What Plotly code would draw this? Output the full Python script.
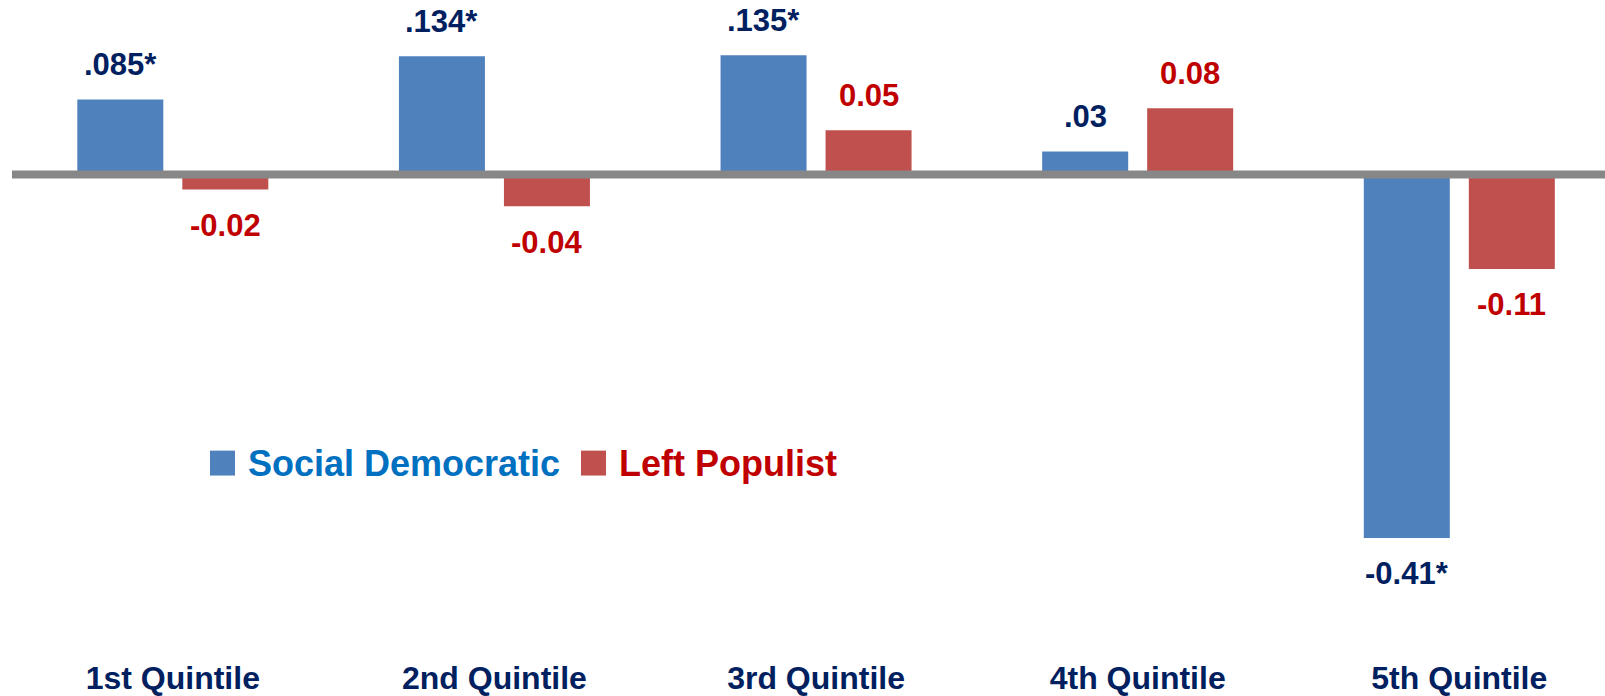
import plotly.graph_objects as go

# ---- data (bar values; labels as printed) ----
categories = ["1st Quintile", "2nd Quintile", "3rd Quintile", "4th Quintile", "5th Quintile"]
social_dem = [0.085, 0.134, 0.135, 0.026, -0.412]
left_pop = [-0.017, -0.036, 0.05, 0.075, -0.107]
social_labels = [".085*", ".134*", ".135*", ".03", "-0.41*"]
left_labels = ["-0.02", "-0.04", "0.05", "0.08", "-0.11"]
series_names = ["Social Democratic", "Left Populist"]

# ---- style ----
W, H = 1605, 696
ML, MR, MT, MB = 12, 0, 0, 38
PW, PH = W - ML - MR, H - MT - MB
BAR_COLORS = ["#4F81BD", "#C0504D"]
LABEL_COLORS = ["#002060", "#C00000"]
LEGEND_COLORS = ["#0070C0", "#C00000"]
FONT = "Liberation Sans, Arial, sans-serif"
ZERO_PX = 175          # pixel row of the zero line
PX_PER_UNIT = 885

y_top = ZERO_PX / PX_PER_UNIT
y_bot = -(PH - ZERO_PX) / PX_PER_UNIT

fig = go.Figure()
all_vals = [social_dem, left_pop]
all_labels = [social_labels, left_labels]
for i, name in enumerate(series_names):
    fig.add_trace(go.Bar(
        x=categories, y=all_vals[i], name=name,
        marker=dict(color=BAR_COLORS[i], line=dict(width=0)),
        showlegend=False, hoverinfo="skip",
    ))

# value labels
offsets = [-52.5, 52.5]
annotations = []
for i in range(2):
    for c, v, t in zip(categories, all_vals[i], all_labels[i]):
        annotations.append(dict(
            x=c, y=v, text=t, showarrow=False,
            xshift=offsets[i], yshift=35 if v >= 0 else -36,
            xanchor="center", yanchor="middle",
            font=dict(family=FONT, size=31, color=LABEL_COLORS[i], weight="bold"),
        ))

# manual legend (large square swatches)
def px2paper_x(px):
    return (px - ML) / PW

def px2paper_y(py):
    return (MT + PH - py) / PH

legend_items = [(210, 246), (581, 617)]
shapes = []
for i, name in enumerate(series_names):
    sx, tx = legend_items[i]
    shapes.append(dict(
        type="rect", xref="paper", yref="paper",
        x0=px2paper_x(sx), x1=px2paper_x(sx + 25),
        y0=px2paper_y(477), y1=px2paper_y(452),
        fillcolor=BAR_COLORS[i], line=dict(width=0), layer="above",
    ))
    annotations.append(dict(
        xref="paper", yref="paper", x=px2paper_x(tx), y=px2paper_y(465),
        text=name, showarrow=False, xanchor="left", yanchor="middle",
        font=dict(family=FONT, size=36, color=LEGEND_COLORS[i], weight="bold"),
    ))

# zero line drawn above the bars
shapes.append(dict(
    type="line", xref="paper", yref="y", x0=0, x1=1, y0=0, y1=0,
    line=dict(color="#878787", width=8), layer="above",
))

fig.update_layout(
    width=W, height=H,
    margin=dict(l=ML, r=MR, t=MT, b=MB),
    paper_bgcolor="white", plot_bgcolor="white",
    barmode="group", bargap=0.347, bargroupgap=0.181,
    annotations=annotations, shapes=shapes,
    showlegend=False,
    xaxis=dict(
        type="category", range=[-0.5, 4.453],
        showgrid=False, zeroline=False, showline=False, ticks="",
        tickfont=dict(family=FONT, size=32, color="#002060", weight="bold"),
    ),
    yaxis=dict(
        range=[y_bot, y_top], showgrid=False, zeroline=False,
        showline=False, showticklabels=False, ticks="",
    ),
)

fig.write_html(
    "out.html",
    config={"displayModeBar": False},
    post_script="document.body.style.margin='0';document.body.style.overflow='hidden';",
)
